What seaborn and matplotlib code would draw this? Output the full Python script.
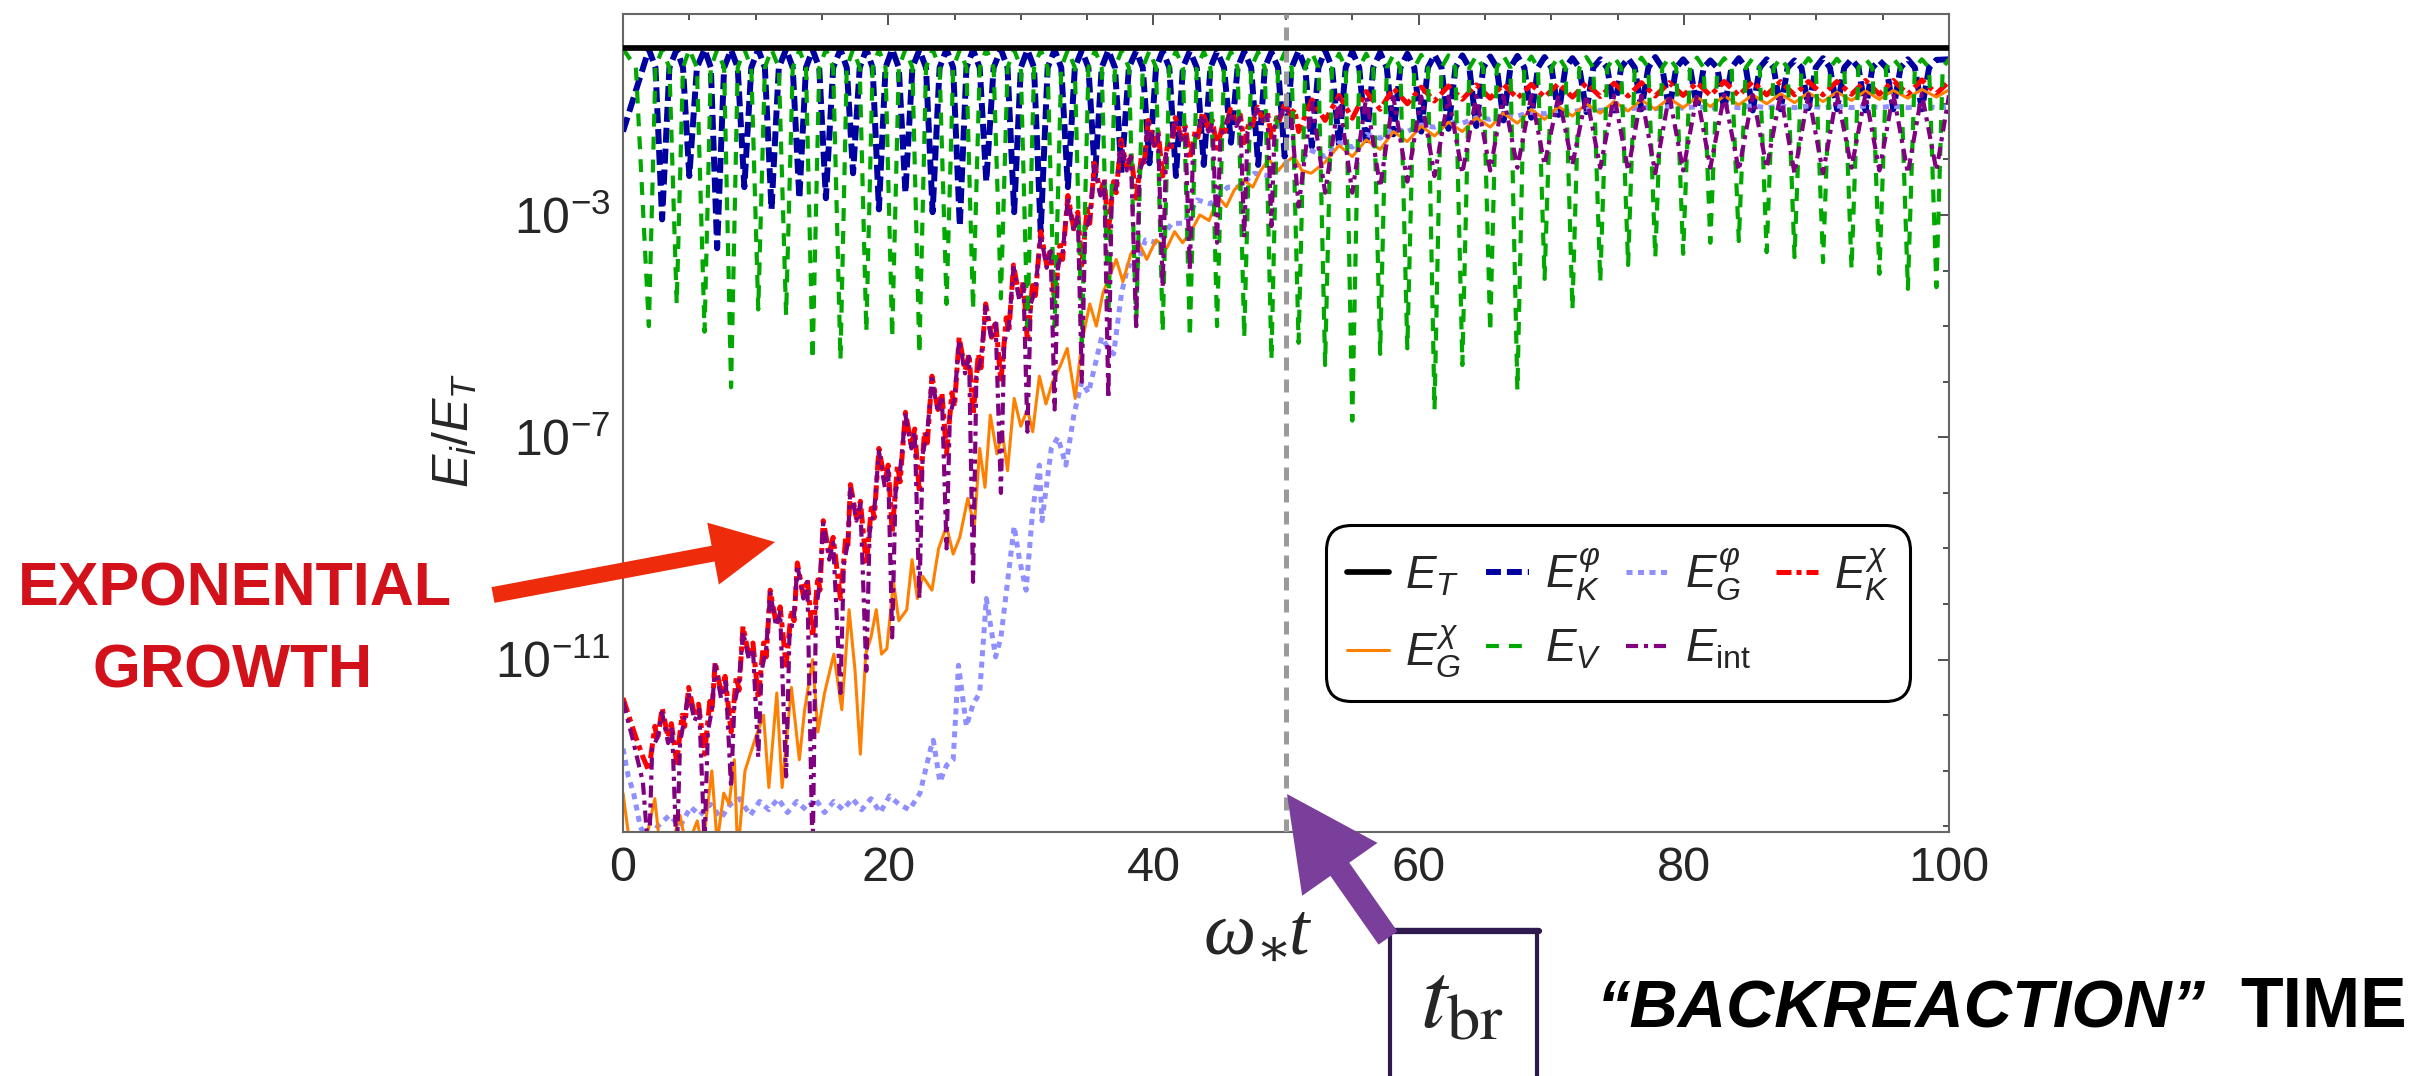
import numpy as np
import pandas as pd
import matplotlib
matplotlib.use("Agg")
import matplotlib.pyplot as plt
import seaborn as sns
from matplotlib.patches import FancyArrow, Rectangle
from matplotlib.lines import Line2D
from matplotlib.transforms import IdentityTransform
from matplotlib.ticker import FixedLocator, FixedFormatter, MultipleLocator, NullFormatter

# ---------------------------------------------------------------- data
# all energies stored as log10(E_i / E_T) against omega_* t

# total energy
et_t = [0.0, 100.0]
et_log = [0.0, 0.0]

# inflaton potential energy E_V: dips (phi = 0) and maxima in between
v_dip_t = [1.95, 4.05, 6.15, 8.15, 10.2, 12.3, 14.3, 16.4, 18.35, 20.3, 22.35, 24.4,
           26.4, 28.5, 30.5, 32.55, 34.6, 36.6, 38.7, 40.7, 42.75, 44.8, 46.85, 48.9,
           50.95, 52.95, 55.0, 57.1, 59.15, 61.2, 63.3, 65.4, 67.45, 69.5, 71.6, 73.7,
           75.8, 77.85, 79.95, 82.0, 84.15, 86.25, 88.35, 90.5, 92.65, 94.75, 96.9, 99.05]
v_dip_log = [-5.0, -4.6, -5.1, -6.1, -4.7, -4.8, -5.6, -5.6, -5.1, -5.2, -5.5, -4.6,
             -4.7, -4.5, -5.0, -5.0, -5.3, -4.8, -5.0, -5.1, -5.2, -5.0, -5.2, -5.6,
             -5.3, -5.7, -6.7, -5.5, -5.4, -6.5, -5.7, -5.1, -6.15, -4.15, -4.7, -4.2,
             -3.9, -3.76, -3.7, -3.5, -3.47, -3.67, -3.76, -3.85, -3.97, -4.06, -4.33, -4.3]
v_peak_log = [-0.02, -0.02, -0.03, -0.02, -0.02, -0.03, -0.02, -0.02, -0.03, -0.02,
              -0.02, -0.03, -0.02, -0.03, -0.03, -0.03, -0.04, -0.04, -0.05, -0.05,
              -0.06, -0.06, -0.07, -0.08, -0.08, -0.1, -0.1, -0.12, -0.12, -0.13,
              -0.14, -0.14, -0.15, -0.15, -0.16, -0.16, -0.17, -0.17, -0.17, -0.18,
              -0.18, -0.18, -0.18, -0.19, -0.19, -0.19, -0.2]
v_start_log = -0.01
v_end_log = -0.2

# inflaton kinetic energy E_K^phi: dips at turning points, maxima at phi = 0
k_dip_t = [2.95, 5.0, 7.1, 9.15, 11.2, 13.3, 15.3, 17.35, 19.3, 21.3, 23.35, 25.4,
           27.4, 29.5, 31.5, 33.55, 35.6, 37.6, 39.7, 41.7, 43.8, 45.85, 47.9, 49.9,
           51.95, 54.0, 56.05, 58.1, 60.2, 62.25, 64.35, 66.4, 68.5, 70.55, 72.65, 74.75,
           76.8, 78.9, 81.0, 83.05, 85.2, 87.3, 89.4, 91.55, 93.7, 95.8, 97.95]
k_dip_log = [-3.08, -2.3, -3.6, -2.5, -2.9, -2.7, -2.7, -2.25, -2.9, -2.6,
             -2.95, -3.2, -2.4, -2.95, -3.3, -2.5, -2.3, -2.25, -2.07, -2.3,
             -2.1, -1.7, -2.1, -1.95, -1.77, -1.75, -1.75, -1.55, -1.5, -1.45,
             -1.4, -1.3, -1.25, -1.2, -1.15, -1.12, -1.1, -1.12, -1.08, -1.1,
             -1.12, -1.1, -1.08, -1.1, -1.12, -1.1, -1.1]
k_peak_log = [-0.02, -0.02, -0.02, -0.03, -0.02, -0.02, -0.03, -0.02, -0.02, -0.02,
              -0.03, -0.02, -0.03, -0.02, -0.03, -0.03, -0.04, -0.04, -0.05, -0.05,
              -0.05, -0.06, -0.06, -0.07, -0.05, -0.04, -0.06, -0.08, -0.1, -0.12,
              -0.13, -0.15, -0.14, -0.16, -0.18, -0.2, -0.18, -0.16, -0.2, -0.22,
              -0.18, -0.2, -0.22, -0.18, -0.2, -0.22, -0.2, -0.21]
k_start_log = -1.5
k_end_log = -0.2

# level where kinetic and potential inflaton energies cross
cross_log = -0.35

# chi kinetic energy E_K^chi
kchi_t = [0.0, 0.9, 1.5,
          1.95, 2.4, 2.6, 2.95, 3.4, 3.65,
          4.05, 4.45, 4.65, 4.95, 5.4, 5.7,
          6.15, 6.55, 6.7, 6.95, 7.4, 7.7,
          8.15, 8.55, 8.75, 9.05, 9.5, 9.8,
          10.2, 10.6, 10.8, 11.1, 11.55, 11.85,
          12.3, 12.7, 12.9, 13.15, 13.6, 13.9,
          14.3, 14.7, 14.85, 15.1, 15.55, 15.85,
          16.4, 16.8, 16.95, 17.15, 17.6, 17.9,
          18.35, 18.75, 18.95, 19.3, 19.75, 20.0,
          20.3, 20.7, 20.9, 21.3, 21.75, 22.0,
          22.35, 22.75, 22.95, 23.3, 23.75, 24.05,
          24.4, 24.8, 25.0, 25.35, 25.8, 26.1,
          26.4, 26.8, 27.0, 27.35, 27.8, 28.1,
          28.5, 28.9, 29.1, 29.45, 29.9, 30.2,
          30.5, 30.9, 31.1, 31.5, 31.95, 32.25,
          32.55, 32.95, 33.15, 33.55, 34.0, 34.3,
          34.6, 35.0, 35.2, 35.55, 36.0, 36.3,
          36.6, 37.0, 37.2, 37.55, 38.0, 38.3,
          38.7, 39.1, 39.3, 39.6, 40.05, 40.35,
          40.7, 41.1, 41.3, 41.65, 42.1, 42.4,
          42.75, 43.15, 43.35, 43.7, 44.15, 44.45,
          44.8, 45.2, 45.4, 45.8, 46.25, 46.55,
          46.85, 47.25, 47.45, 47.85, 48.3, 48.6,
          48.9, 49.3, 49.5, 49.9, 50.35, 50.65,
          50.95, 51.95, 52.95, 54.0, 55.0, 56.05, 57.1, 58.1, 59.15, 60.2,
          61.2, 62.25, 63.3, 64.35, 65.4, 66.4, 67.45, 68.5, 69.5, 70.55,
          71.6, 72.65, 73.7, 74.75, 75.8, 76.8, 77.85, 78.9, 79.95, 81.0,
          82.0, 83.05, 84.15, 85.2, 86.25, 87.3, 88.35, 89.4, 90.5, 91.55,
          92.65, 93.7, 94.75, 95.8, 96.9, 97.95, 99.05, 100.0]
kchi_log = [-11.69, -12.35, -12.75,
            -13.0, -12.2, -12.45, -11.87, -12.4, -12.15,
            -12.85, -12.0, -12.2, -11.5, -12.0, -11.8,
            -12.7, -11.75, -11.95, -11.04, -11.6, -11.3,
            -12.3, -11.3, -11.55, -10.4, -10.95, -10.7,
            -11.7, -10.7, -10.95, -9.75, -10.35, -10.05,
            -11.1, -10.1, -10.3, -9.26, -9.85, -9.55,
            -10.6, -9.5, -9.75, -8.5, -9.1, -8.8,
            -9.9, -8.8, -9.0, -7.85, -8.45, -8.15,
            -9.3, -8.2, -8.45, -7.2, -7.8, -7.5,
            -8.7, -7.5, -7.8, -6.55, -7.15, -6.85,
            -8.0, -6.9, -7.1, -5.9, -6.5, -6.2,
            -7.3, -6.2, -6.45, -5.2, -5.8, -5.5,
            -6.6, -5.5, -5.75, -4.6, -5.2, -4.9,
            -6.0, -4.85, -5.1, -3.9, -4.5, -4.2,
            -5.3, -4.2, -4.45, -3.3, -3.9, -3.6,
            -4.6, -3.55, -3.8, -2.65, -3.25, -2.95,
            -3.9, -2.9, -3.15, -2.07, -2.6, -2.35,
            -3.3, -2.4, -2.6, -1.65, -2.15, -1.9,
            -2.7, -1.95, -2.1, -1.3, -1.75, -1.5,
            -2.3, -1.7, -1.85, -1.25, -1.6, -1.4,
            -2.0, -1.5, -1.6, -1.15, -1.45, -1.3,
            -1.8, -1.4, -1.5, -1.1, -1.35, -1.2,
            -1.7, -1.3, -1.4, -1.06, -1.3, -1.15,
            -1.6, -1.25, -1.3, -1.0, -1.2, -1.1,
            -1.5, -0.93, -1.3, -0.85, -1.26, -0.78, -1.1, -0.72, -1.0, -0.7,
            -0.95, -0.68, -0.92, -0.66, -0.9, -0.65, -0.9, -0.65, -0.88, -0.64,
            -0.88, -0.63, -0.87, -0.63, -0.86, -0.62, -0.86, -0.62, -0.85, -0.62,
            -0.85, -0.6, -0.85, -0.6, -0.84, -0.6, -0.84, -0.6, -0.84, -0.6,
            -0.83, -0.58, -0.83, -0.58, -0.83, -0.57, -0.82, -0.6]

# interaction energy E_int
int_t = [0.0, 0.7, 1.5,
         1.95, 2.2, 2.6, 2.95, 3.4, 3.7,
         4.05, 4.3, 4.6, 4.95, 5.4, 5.75,
         6.15, 6.4, 6.7, 6.95, 7.4, 7.75,
         8.15, 8.4, 8.75, 9.05, 9.5, 9.8,
         10.2, 10.45, 10.8, 11.1, 11.55, 11.85,
         12.3, 12.55, 12.9, 13.15, 13.6, 13.9,
         14.3, 14.55, 14.85, 15.1, 15.55, 15.85,
         16.4, 16.65, 16.95, 17.15, 17.6, 17.9,
         18.35, 18.6, 18.95, 19.3, 19.75, 20.0,
         20.3, 20.55, 20.9, 21.3, 21.75, 22.0,
         22.35, 22.6, 22.95, 23.3, 23.75, 24.05,
         24.4, 24.65, 25.0, 25.35, 25.8, 26.1,
         26.4, 26.65, 27.0, 27.35, 27.8, 28.1,
         28.5, 28.75, 29.1, 29.45, 29.9, 30.2,
         30.5, 30.75, 31.1, 31.5, 31.95, 32.25,
         32.55, 32.8, 33.15, 33.55, 34.0, 34.3,
         34.6, 34.85, 35.2, 35.55, 36.0, 36.3,
         36.6, 36.85, 37.2, 37.55, 38.0, 38.3,
         38.7, 38.95, 39.3, 39.6, 40.05, 40.35,
         40.7, 40.95, 41.3, 41.65, 42.1, 42.4,
         42.75, 43.0, 43.35, 43.7, 44.15, 44.45,
         44.8, 45.05, 45.4, 45.8, 46.25, 46.55,
         46.85, 47.1, 47.45, 47.85, 48.3, 48.6,
         48.9, 49.15, 49.5, 49.9, 50.4,
         50.95, 51.95, 52.95, 54.0, 55.0, 56.05, 57.1, 58.1, 59.15, 60.2,
         61.2, 62.25, 63.3, 64.35, 65.4, 66.4, 67.45, 68.5, 69.5, 70.55,
         71.6, 72.65, 73.7, 74.75, 75.8, 76.8, 77.85, 78.9, 79.95, 81.0,
         82.0, 83.05, 84.15, 85.2, 86.25, 87.3, 88.35, 89.4, 90.5, 91.55,
         92.65, 93.7, 94.75, 95.8, 96.9, 97.95, 99.05, 100.0]
int_log = [-11.75, -12.4, -13.2,
           -14.6, -12.6, -12.4, -11.95, -12.5, -12.2,
           -14.6, -12.5, -12.1, -11.6, -12.1, -11.9,
           -14.3, -12.3, -11.9, -11.1, -11.7, -11.4,
           -13.3, -11.8, -11.4, -10.5, -11.0, -10.8,
           -12.75, -11.2, -10.8, -9.8, -10.4, -10.15,
           -13.1, -10.6, -10.2, -9.3, -9.9, -9.6,
           -14.6, -10.1, -9.6, -8.55, -9.2, -8.9,
           -11.6, -9.3, -8.9, -7.9, -8.5, -8.2,
           -11.2, -8.7, -8.3, -7.25, -7.9, -7.6,
           -10.6, -8.0, -7.6, -6.6, -7.2, -6.9,
           -9.9, -7.3, -6.9, -5.95, -6.55, -6.25,
           -9.0, -6.6, -6.3, -5.25, -5.85, -5.55,
           -9.6, -5.9, -5.6, -4.65, -5.25, -4.95,
           -8.0, -5.3, -5.0, -3.95, -4.55, -4.25,
           -6.9, -4.6, -4.35, -3.35, -3.95, -3.65,
           -6.5, -3.9, -3.7, -2.7, -3.3, -3.0,
           -6.0, -3.3, -3.05, -2.12, -2.65, -2.4,
           -6.3, -2.7, -2.5, -1.7, -2.2, -1.95,
           -5.0, -2.2, -2.0, -1.35, -1.8, -1.55,
           -4.3, -1.9, -1.7, -1.3, -1.65, -1.45,
           -4.0, -1.7, -1.5, -1.2, -1.5, -1.35,
           -3.5, -1.6, -1.4, -1.15, -1.4, -1.25,
           -3.4, -1.5, -1.3, -1.1, -1.35, -1.2,
           -3.2, -1.4, -1.25, -1.05, -1.25,
           -2.85, -0.95, -2.6, -0.9, -2.6, -0.88, -2.5, -0.88, -2.4, -0.87,
           -2.3, -0.87, -2.25, -0.86, -2.2, -0.86, -2.15, -0.85, -2.1, -0.85,
           -2.1, -0.85, -2.15, -0.85, -2.2, -0.85, -2.25, -0.84, -2.2, -0.84,
           -2.15, -0.84, -2.2, -0.84, -2.15, -0.83, -2.25, -0.83, -2.25, -0.83,
           -2.15, -0.83, -2.2, -0.82, -2.25, -0.82, -2.2, -0.85]

# chi gradient energy E_G^chi
gchi_t = [0.0, 0.5, 1.5, 2.4, 2.8, 3.6, 4.3, 4.8, 5.6, 6.0, 6.7, 7.1, 7.6, 8.0, 8.4,
          8.65, 9.2, 9.6, 10.0, 10.6, 11.0, 11.6, 12.0, 12.7, 13.3, 13.7, 14.3, 14.7,
          15.2, 15.9, 16.5, 17.05, 17.5, 17.9, 18.3, 18.7, 19.1, 19.5, 19.9, 20.4,
          20.8, 21.4, 21.8, 22.2, 22.6, 23.3, 23.8, 24.4, 24.9, 25.4, 26.0, 26.5,
          26.9, 27.3, 27.7, 28.2, 28.6, 29.0, 29.5, 30.0, 30.5, 30.9, 31.4, 31.9,
          32.4, 33.0, 33.5, 34.1, 34.6, 35.2, 35.7, 36.2, 36.7, 37.2, 37.7, 38.3,
          38.9, 39.5, 40.2, 41.0, 41.6, 42.2, 42.9, 43.5, 44.2, 44.9, 45.5, 46.1,
          46.8, 47.5, 48.1, 48.7, 49.4, 50.0, 50.6, 51.2, 51.9,
          52.95, 54.0, 55.0, 56.05, 57.1, 58.1, 59.15, 60.2, 61.2, 62.25,
          63.3, 64.35, 65.4, 66.4, 67.45, 68.5, 69.5, 70.55, 71.6, 72.65,
          73.7, 74.75, 75.8, 76.8, 77.85, 78.9, 79.95, 81.0, 82.0, 83.05,
          84.15, 85.2, 86.25, 87.3, 88.35, 89.4, 90.5, 91.55, 92.65, 93.7,
          94.75, 95.8, 96.9, 97.95, 99.05, 100.0]
gchi_log = [-13.4, -14.3, -14.5, -13.5, -14.4, -14.4, -13.8, -14.4, -13.9, -14.4, -13.0,
            -14.3, -13.4, -13.6, -12.8, -14.5, -13.0, -12.7, -12.4, -12.0, -13.3, -11.6,
            -13.3, -11.5, -12.8, -11.9, -11.0, -12.3, -11.6, -10.9, -11.9, -10.1, -11.2,
            -12.7, -10.9, -10.6, -10.1, -10.9, -10.8, -9.6, -10.3, -10.1, -9.2, -9.9,
            -9.5, -9.75, -9.0, -8.6, -9.1, -8.8, -8.1, -8.6, -7.2, -7.9, -6.6, -7.3,
            -6.9, -7.6, -6.3, -6.8, -6.5, -6.9, -5.9, -6.4, -6.0, -5.7, -5.4, -6.3,
            -5.3, -4.6, -5.0, -4.4, -4.1, -3.8, -4.2, -3.7, -3.5, -3.8, -3.45, -3.6,
            -3.3, -3.5, -3.27, -3.0, -3.1, -2.68, -2.85, -2.55, -2.37, -2.5, -2.2,
            -2.0, -2.2, -2.05, -1.95, -2.2, -2.25,
            -2.05, -1.75, -1.95, -1.65, -1.82, -1.5, -1.68, -1.4, -1.58, -1.33,
            -1.5, -1.25, -1.42, -1.17, -1.35, -1.1, -1.28, -1.05, -1.22, -1.0,
            -1.17, -0.96, -1.13, -0.93, -1.1, -0.9, -1.07, -0.88, -1.05, -0.86,
            -1.02, -0.84, -1.0, -0.82, -0.98, -0.8, -0.96, -0.79, -0.94, -0.77,
            -0.92, -0.76, -0.9, -0.74, -0.88, -0.75]

# inflaton gradient energy E_G^phi
gphi_t = [0.0, 0.4, 0.8, 1.3, 1.9, 2.6, 3.5, 4.3, 5.1, 5.8, 6.6, 7.4, 8.1, 8.8, 9.6,
          10.3, 11.0, 11.7, 12.4, 13.1, 13.8, 14.5, 15.2, 15.9, 16.6, 17.3, 18.0,
          18.7, 19.4, 20.1, 20.8, 21.6, 22.4, 23.2, 23.4, 23.9, 24.4, 24.9, 25.3,
          25.9, 26.4, 26.9, 27.4, 28.1, 28.5, 28.9, 29.5, 29.9, 30.4, 30.9, 31.4,
          31.6, 32.3, 32.8, 33.4, 34.0, 34.6, 35.1, 35.6, 36.1, 36.6, 37.0, 37.6,
          38.1, 38.7, 39.4, 40.3, 41.4, 42.3, 43.3, 44.3, 45.6, 46.5, 47.6, 48.8,
          50.0, 50.9, 51.8, 52.95, 54.0, 55.0, 56.05, 57.1, 58.1, 59.15, 60.2,
          61.2, 62.25, 63.3, 64.35, 65.4, 66.4, 67.45, 68.5, 69.5, 70.55, 71.6,
          72.65, 73.7, 74.75, 75.8, 76.8, 77.85, 78.9, 79.95, 81.0, 82.0, 83.05,
          84.15, 85.2, 86.25, 87.3, 88.35, 89.4, 90.5, 91.55, 92.65, 93.7, 94.75,
          95.8, 96.9, 97.95, 99.05, 100.0]
gphi_log = [-12.6, -13.1, -13.4, -14.0, -14.3, -14.0, -13.8, -14.0, -13.65, -13.8,
            -13.6, -13.85, -13.6, -13.5, -13.8, -13.55, -13.7, -13.5, -13.75, -13.55,
            -13.7, -13.5, -13.75, -13.55, -13.7, -13.5, -13.7, -13.5, -13.75, -13.45,
            -13.6, -13.7, -13.4, -12.6, -12.45, -13.2, -12.9, -12.8, -11.1, -12.2,
            -11.8, -11.6, -9.9, -10.95, -10.6, -9.8, -8.6, -9.2, -9.75, -8.3, -7.5,
            -8.5, -7.2, -7.0, -7.5, -6.6, -6.0, -6.2, -5.7, -5.2, -5.4, -5.5, -4.4,
            -3.9, -3.95, -3.45, -3.5, -3.15, -3.15, -2.73, -2.8, -2.5, -2.5, -2.25,
            -2.3, -2.07, -2.1, -1.83, -1.95, -1.7, -1.78, -1.55, -1.62, -1.45, -1.5,
            -1.38, -1.42, -1.32, -1.35, -1.25, -1.28, -1.2, -1.22, -1.15, -1.18,
            -1.12, -1.14, -1.1, -1.12, -1.08, -1.1, -1.06, -1.09, -1.05, -1.08,
            -1.05, -1.08, -1.04, -1.07, -1.04, -1.07, -1.04, -1.07, -1.04, -1.07,
            -1.04, -1.07, -1.04, -1.07, -1.04, -1.07, -1.04, -1.07, -1.05]

legend_labels = [r"$E_T$", r"$E_K^{\varphi}$", r"$E_G^{\varphi}$", r"$E_K^{\chi}$",
                 r"$E_G^{\chi}$", r"$E_V$", r"$E_{\mathrm{int}}$"]
x_ticks = [0, 20, 40, 60, 80, 100]
y_tick_exp = [-11, -7, -3]
t_backreaction = 50.0


# ---------------------------------------------------------------- helpers
def oscillation(start_log, low_t, low_log, high_t, high_log, end_log):
    """Polyline through alternating minima and maxima, with the crossing
    level placed half way between each minimum and its neighbours."""
    ts, vs = [0.0], [start_log]
    for k, (tl, vl) in enumerate(zip(low_t, low_log)):
        prev = high_t[k - 1] if k > 0 and k - 1 < len(high_t) else (ts[-1])
        ts.append(0.5 * (prev + tl)); vs.append(cross_log)
        ts.append(tl); vs.append(vl)
        nxt = high_t[k] if k < len(high_t) else 100.0
        ts.append(0.5 * (tl + nxt)); vs.append(cross_log)
        if k < len(high_t):
            ts.append(high_t[k]); vs.append(high_log[k])
    if ts[-1] < 100.0:
        ts.append(100.0); vs.append(end_log)
    return ts, vs


def frame(ts, logs):
    return pd.DataFrame({"t": np.asarray(ts, float),
                         "E": 10.0 ** np.asarray(logs, float)})


# E_V: minima at v_dip_t, maxima at the kinetic minima
v_t, v_log = oscillation(v_start_log, v_dip_t, v_dip_log, k_dip_t, v_peak_log, v_end_log)
# E_K^phi: first maximum at the first potential minimum
kp_t, kp_log = [0.0, v_dip_t[0]], [k_start_log, k_peak_log[0]]
for k, (tl, vl) in enumerate(zip(k_dip_t, k_dip_log)):
    kp_t += [0.5 * (v_dip_t[k] + tl), tl]
    kp_log += [cross_log, vl]
    if k + 1 < len(v_dip_t):
        kp_t += [0.5 * (tl + v_dip_t[k + 1]), v_dip_t[k + 1]]
        kp_log += [cross_log, k_peak_log[k + 1]]
kp_t.append(100.0); kp_log.append(k_end_log)

series = [
    # data, colour, width, linestyle
    (frame(et_t, et_log), "black", 4.1, "-"),
    (frame(kp_t, kp_log), "#0000A0", 4.3, (0, (2.5, 1.0))),
    (frame(gphi_t, gphi_log), "#8F8FFF", 3.6, (0, (1.2, 1.1))),
    (frame(kchi_t, kchi_log), "#FF0000", 3.6, (0, (3.0, 1.0, 1.0, 1.0))),
    (frame(gchi_t, gchi_log), "#FF8000", 2.2, "-"),
    (frame(v_t, v_log), "#00A800", 3.0, (0, (3.1, 2.4))),
    (frame(int_t, int_log), "#800080", 3.0, (0, (2.9, 1.4, 1.0, 1.4))),
]

# ---------------------------------------------------------------- style
sns.set_theme(style="white")
plt.rcParams["font.family"] = ["Liberation Sans", "DejaVu Sans"]
plt.rcParams["mathtext.fontset"] = "custom"
plt.rcParams["mathtext.rm"] = "Liberation Sans"
plt.rcParams["mathtext.it"] = "Liberation Sans:italic"
plt.rcParams["mathtext.bf"] = "Liberation Sans:bold"

W, H = 2412, 1076
fig = plt.figure(figsize=(W / 100, H / 100), dpi=100)
fig.patch.set_facecolor("white")
ax = fig.add_axes([623 / W, 1 - 832 / H, (1949 - 623) / W, (832 - 14) / H])
ax.set_facecolor("white")
ax.set_yscale("log")

handles = []
for (df, color, lw, ls) in series:
    sns.lineplot(data=df, x="t", y="E", ax=ax, color=color, linewidth=lw,
                 linestyle=ls, estimator=None, sort=False, errorbar=None,
                 legend=False)
    handles.append(ax.lines[-1])
handles[0].set_zorder(4)

ax.axvline(t_backreaction, color="#9a9a9a", lw=3.6, linestyle=(0, (2.6, 1.8)),
           zorder=3)

ax.set_xlim(0, 100)
ax.set_ylim(10 ** -14.1, 10 ** 0.615)

ax.xaxis.set_major_locator(FixedLocator(x_ticks))
ax.xaxis.set_minor_locator(MultipleLocator(5))
ax.set_xticklabels([str(v) for v in x_ticks])
ax.yaxis.set_major_locator(FixedLocator([10.0 ** e for e in y_tick_exp]))
ax.yaxis.set_major_formatter(FixedFormatter([r"$10^{%d}$" % e for e in y_tick_exp]))
ax.yaxis.set_minor_locator(FixedLocator([10.0 ** e for e in range(-14, 1)
                                         if e not in y_tick_exp]))
ax.yaxis.set_minor_formatter(NullFormatter())

ax.tick_params(which="both", direction="in", top=True, right=True,
               color="#333333", width=1.2)
ax.tick_params(which="major", length=8)
ax.tick_params(which="minor", length=4.5)
ax.tick_params(axis="x", which="major", labelsize=35, pad=10)
ax.tick_params(axis="y", which="major", labelsize=36, pad=9)
for sp in ax.spines.values():
    sp.set_color("#666666")
    sp.set_linewidth(1.5)
ax.grid(False)

# the horizontal title is placed below as figure text
ax.set_xlabel("")
ax.set_ylabel(r"$E_i/E_T$", fontsize=36, va="center")
ax.yaxis.set_label_coords((455 - 623) / 1326, (832 - 430) / 818)

# legend laid out row by row
order = [0, 4, 1, 5, 2, 6, 3]
leg = ax.legend([handles[i] for i in order], [legend_labels[i] for i in order],
                ncol=4, loc="center", bbox_to_anchor=(0.7505, 0.268),
                fontsize=33, handlelength=0.92, handletextpad=0.35,
                columnspacing=0.55, labelspacing=0.55, borderpad=0.45,
                frameon=True, fancybox=True, framealpha=1.0)
fr = leg.get_frame()
fr.set_edgecolor("black")
fr.set_linewidth(2.2)
fr.set_boxstyle("round", pad=0.0, rounding_size=0.55)
leg.set_zorder(5)

# ---------------------------------------------------------------- annotations
px = IdentityTransform()
renderer = fig.canvas.get_renderer()


def yd(y_img):
    return H - y_img


def text_width(t):
    return t.get_window_extent(renderer=renderer).width


def fitted_text(x_img, y_img, s, width_px, **kw):
    """Figure text whose rendered width is scaled to width_px pixels."""
    t = fig.text(x_img / W, 1 - y_img / H, s, **kw)
    w = text_width(t)
    if w > 0:
        t.set_fontsize(t.get_fontsize() * width_px / w)
    return t


def serif_title(xc_img, base_img, width_px, size=54.0):
    """omega_* t written as italic serif pieces with a lowered asterisk."""
    pieces = [("\u03c9", 1.0, 0.0, "italic", "Liberation Serif"),
              ("\u2217", 0.72, -0.16, "normal", "DejaVu Serif"),
              ("t", 1.0, 0.0, "italic", "Liberation Serif")]

    def build(sz):
        made = []
        for s, rel, _, st, fam in pieces:
            made.append(fig.text(0, 0, s, fontsize=sz * rel, fontstyle=st,
                                 family=fam, ha="left", va="baseline"))
        return made

    probe = build(size)
    total = sum(text_width(t) for t in probe)
    for t in probe:
        t.remove()
    size = size * width_px / total
    made = build(size)
    x = xc_img - width_px / 2.0
    for t, (_, rel, dy, _, _) in zip(made, pieces):
        w = text_width(t)
        y = base_img - dy * size * 100.0 / 72.0
        t.set_position((x / W, 1 - y / H))
        x += w * (0.9 if t.get_text() == "\u2217" else 1.0)


serif_title(1258, 954, 109)

fitted_text(235, 605, "EXPONENTIAL", 434, ha="center", va="baseline",
            fontsize=43, fontweight="bold", color="#D2111A")
fitted_text(233, 688, "GROWTH", 280, ha="center", va="baseline",
            fontsize=43, fontweight="bold", color="#D2111A")

fig.add_artist(FancyArrow(493, yd(595), 775 - 493, yd(542) - yd(595), width=16,
                          head_width=63, head_length=63, length_includes_head=True,
                          transform=px, color="#EE2B0B", lw=0, zorder=6))

box = Rectangle((1390, -10), 147, yd(930) + 10, transform=px, facecolor="white",
                edgecolor="#2E1A4F", lw=3.0, zorder=6)
fig.add_artist(box)
fig.add_artist(Line2D([1388, 1539], [yd(931), yd(931)], transform=px,
                      color="#2E1A4F", lw=4.5, zorder=7))
fitted_text(1462, 1027, r"$t_{\mathrm{br}}$", 84, math_fontfamily="stix",
            fontsize=66, ha="center", va="baseline", zorder=8)

fig.add_artist(FancyArrow(1388, yd(938), 1287 - 1388, yd(794) - yd(938), width=23,
                          head_width=92, head_length=92, length_includes_head=True,
                          transform=px, color="#7A3E9B", lw=0, zorder=7))

fitted_text(1597, 1027, "\u201cBACKREACTION\u201d", 610, ha="left",
            va="baseline", fontsize=50, fontweight="bold", fontstyle="italic",
            color="black")
fitted_text(2240, 1027, "TIME", 167, ha="left", va="baseline",
            fontsize=50, fontweight="bold", color="black")

fig.savefig("out.png", dpi=100, facecolor="white")
